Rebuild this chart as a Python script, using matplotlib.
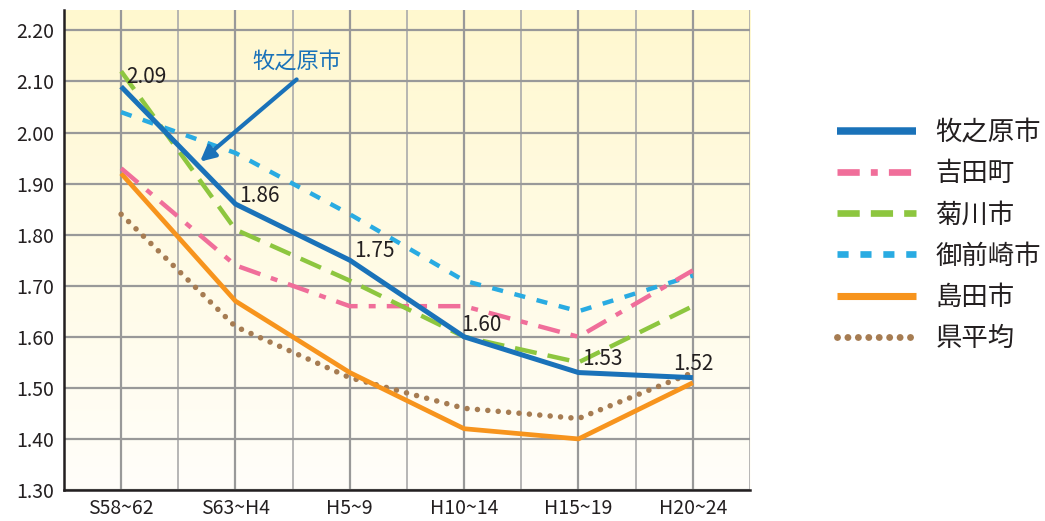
import matplotlib
matplotlib.use("Agg")
import matplotlib.pyplot as plt
import numpy as np
from matplotlib.colors import LinearSegmentedColormap
from matplotlib.lines import Line2D

plt.rcParams['font.family'] = ['Noto Sans CJK JP', 'DejaVu Sans']
plt.rcParams['lines.scale_dashes'] = False

periods = ["S58~62", "S63~H4", "H5~9", "H10~14", "H15~19", "H20~24"]

makinohara = [2.09, 1.86, 1.75, 1.60, 1.53, 1.52]
yoshida = [1.93, 1.74, 1.66, 1.66, 1.60, 1.73]
kikugawa = [2.12, 1.81, 1.71, 1.60, 1.55, 1.66]
omaezaki = [2.04, 1.96, 1.84, 1.71, 1.65, 1.72]
shimada = [1.92, 1.67, 1.53, 1.42, 1.40, 1.51]
pref_avg = [1.84, 1.62, 1.52, 1.46, 1.44, 1.53]

series_names = ["牧之原市", "吉田町", "菊川市", "御前崎市", "島田市", "県平均"]

# label offsets (pixels) for the 牧之原市 values
label_offsets = [(5, 10, 'left'), (4, 8, 'left'), (4, 9, 'left'),
                 (-3, 12, 'left'), (4, 14, 'left'), (0, 14, 'center')]

styles = [
    dict(color="#1a72b9", lw=3.6, ls='-', solid_capstyle='butt'),
    dict(color="#f06e9a", lw=3.2, ls=(0, (16, 8, 5, 8)), dash_capstyle='butt'),
    dict(color="#8dc63f", lw=3.2, ls=(0, (16, 8)), dash_capstyle='butt'),
    dict(color="#29abe2", lw=3.2, ls=(0, (8, 8.5)), dash_capstyle='butt'),
    dict(color="#f7941d", lw=3.4, ls='-', solid_capstyle='butt'),
    dict(color="#a67c52", lw=4.0, ls=(0, (0.01, 7.5)), dash_capstyle='round'),
]

fig = plt.figure(figsize=(10.45, 5.21), dpi=100)
ax = fig.add_axes([0.0612, 0.0595, 0.6565, 0.9213])

ymin, ymax = 1.30, 2.24
ax.set_xlim(-0.5, 5.5)
ax.set_ylim(ymin, ymax)

# yellow to white background
cmap = LinearSegmentedColormap.from_list("bg", ["#fffefa", "#fff8cf"])
grad = np.linspace(0, 1, 256).reshape(-1, 1)
ax.imshow(grad, extent=[-0.5, 5.5, ymin, ymax], origin='lower', aspect='auto',
          cmap=cmap, zorder=0)

x = np.arange(len(periods))
all_series = [makinohara, yoshida, kikugawa, omaezaki, shimada, pref_avg]
draw_order = [5, 4, 3, 1, 2, 0]
for i in draw_order:
    ax.plot(x, all_series[i], zorder=3 + (i == 0), **styles[i])

for xi, v, (dx, dy, ha) in zip(x, makinohara, label_offsets):
    ax.annotate(f"{v:.2f}", (xi, v), xytext=(dx, dy), textcoords='offset pixels',
                ha=ha, va='center', fontsize=15, color="#231f20", zorder=5)

# callout arrow
ax.annotate("", xy=(0.69, 1.943), xytext=(1.535, 2.104),
            arrowprops=dict(arrowstyle='-|>', color="#1a72b9", lw=3,
                            mutation_scale=22, shrinkA=0, shrinkB=0), zorder=5)
ax.text(1.535, 2.14, "牧之原市", color="#1a72b9", fontsize=16,
        ha='center', va='center', zorder=5)

# grid
ax.set_xticks(x)
ax.set_xticks(np.arange(-0.5, 5.6, 1.0), minor=True)
ax.set_yticks(np.arange(1.30, 2.21, 0.10))
ax.set_yticklabels([f"{t:.2f}" for t in np.arange(1.30, 2.21, 0.10)])
ax.set_xticklabels(periods)
ax.grid(which='major', axis='both', color="#999999", lw=1.6, zorder=1)
ax.grid(which='minor', axis='x', color="#aaaaaa", lw=1.2, zorder=1)
ax.set_axisbelow(False)
for line in ax.get_xgridlines() + ax.get_ygridlines():
    line.set_zorder(1)
ax.tick_params(which='both', length=0, labelsize=14, colors="#231f20")
ax.tick_params(axis='y', pad=7)
ax.tick_params(axis='x', pad=6)

for side in ['top', 'right']:
    ax.spines[side].set_visible(False)
for side in ['left', 'bottom']:
    ax.spines[side].set_color("#231f20")
    ax.spines[side].set_linewidth(1.8)
    ax.spines[side].set_zorder(6)

handles = []
for st in styles:
    s = dict(st)
    s['lw'] = s['lw'] * 1.5 if s['ls'] != (0, (0.01, 7.5)) else 5
    handles.append(Line2D([], [], **s))
fig.legend(handles, series_names, loc='center left', bbox_to_anchor=(0.801, 0.548),
           frameon=False, fontsize=19, handlelength=3.0, labelspacing=0.54,
           handletextpad=0.72, borderaxespad=0, borderpad=0, labelcolor="#231f20")

fig.savefig("out.png", dpi=100)
